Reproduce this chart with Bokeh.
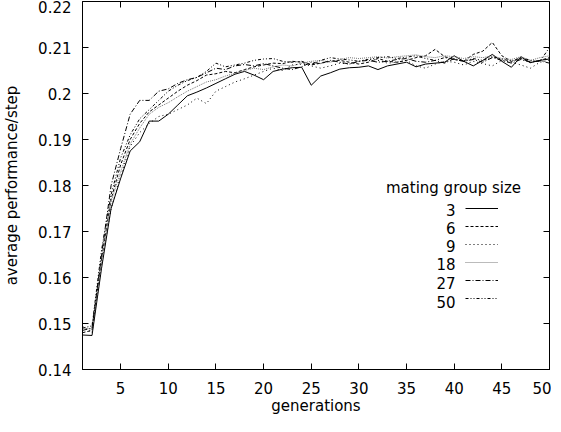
from bokeh.plotting import figure
from bokeh.models import (Range1d, FixedTicker, LinearAxis, Legend, LegendItem,
                          Label, CustomJSTickFormatter)
from bokeh.core.properties import value
from bokeh.embed import file_html
from bokeh.resources import INLINE

generations = list(range(1, 51))
group_sizes = ["3", "6", "9", "18", "27", "50"]

perf_3 = [0.1475, 0.1474, 0.1620, 0.1750, 0.1815, 0.1875, 0.1895, 0.1940, 0.1940, 0.1955,
          0.1975, 0.1995, 0.2003, 0.2012, 0.2022, 0.2032, 0.2042, 0.2048, 0.2040, 0.2030,
          0.2048, 0.2053, 0.2056, 0.2057, 0.2018, 0.2038, 0.2045, 0.2053, 0.2056, 0.2057,
          0.2060, 0.2052, 0.2060, 0.2064, 0.2068, 0.2058, 0.2064, 0.2066, 0.2068, 0.2082,
          0.2070, 0.2060, 0.2072, 0.2085, 0.2070, 0.2057, 0.2080, 0.2067, 0.2072, 0.2075]
perf_6 = [0.1480, 0.1485, 0.1640, 0.1770, 0.1845, 0.1900, 0.1935, 0.1960, 0.1975, 0.1990,
          0.2005, 0.2018, 0.2028, 0.2040, 0.2043, 0.2048, 0.2045, 0.2052, 0.2058, 0.2062,
          0.2066, 0.2065, 0.2070, 0.2068, 0.2062, 0.2066, 0.2070, 0.2072, 0.2068, 0.2064,
          0.2068, 0.2076, 0.2070, 0.2068, 0.2072, 0.2078, 0.2082, 0.2096, 0.2080, 0.2074,
          0.2070, 0.2085, 0.2092, 0.2111, 0.2082, 0.2070, 0.2076, 0.2068, 0.2072, 0.2078]
perf_9 = [0.1495, 0.1480, 0.1630, 0.1750, 0.1820, 0.1885, 0.1915, 0.1935, 0.1950, 0.1955,
          0.1965, 0.1975, 0.1990, 0.1978, 0.2005, 0.2015, 0.2025, 0.2032, 0.2040, 0.2048,
          0.2055, 0.2050, 0.2062, 0.2064, 0.2060, 0.2055, 0.2060, 0.2066, 0.2064, 0.2070,
          0.2075, 0.2072, 0.2066, 0.2068, 0.2072, 0.2060, 0.2055, 0.2064, 0.2070, 0.2068,
          0.2062, 0.2070, 0.2065, 0.2060, 0.2072, 0.2068, 0.2062, 0.2055, 0.2068, 0.2072]
perf_18 = [0.1490, 0.1488, 0.1635, 0.1765, 0.1830, 0.1890, 0.1925, 0.1955, 0.1970, 0.1980,
           0.1993, 0.2005, 0.2015, 0.2025, 0.2030, 0.2038, 0.2044, 0.2050, 0.2055, 0.2052,
           0.2058, 0.2062, 0.2060, 0.2066, 0.2070, 0.2072, 0.2068, 0.2074, 0.2078, 0.2076,
           0.2078, 0.2080, 0.2077, 0.2080, 0.2082, 0.2084, 0.2080, 0.2078, 0.2082, 0.2080,
           0.2076, 0.2080, 0.2078, 0.2082, 0.2076, 0.2074, 0.2080, 0.2072, 0.2078, 0.2082]
perf_27 = [0.1485, 0.1490, 0.1650, 0.1800, 0.1880, 0.1955, 0.1985, 0.1985, 0.2005, 0.2010,
           0.2022, 0.2030, 0.2035, 0.2045, 0.2055, 0.2052, 0.2060, 0.2063, 0.2060, 0.2065,
           0.2060, 0.2055, 0.2052, 0.2058, 0.2068, 0.2065, 0.2072, 0.2068, 0.2064, 0.2070,
           0.2072, 0.2068, 0.2070, 0.2074, 0.2076, 0.2070, 0.2068, 0.2072, 0.2066, 0.2076,
           0.2070, 0.2074, 0.2068, 0.2078, 0.2072, 0.2066, 0.2074, 0.2068, 0.2071, 0.2066]
perf_50 = [0.1490, 0.1495, 0.1660, 0.1780, 0.1860, 0.1910, 0.1945, 0.1965, 0.1985, 0.2005,
           0.2018, 0.2028, 0.2035, 0.2048, 0.2066, 0.2058, 0.2062, 0.2066, 0.2072, 0.2075,
           0.2076, 0.2070, 0.2068, 0.2070, 0.2063, 0.2072, 0.2078, 0.2075, 0.2073, 0.2070,
           0.2074, 0.2078, 0.2080, 0.2076, 0.2079, 0.2082, 0.2076, 0.2072, 0.2078, 0.2074,
           0.2070, 0.2076, 0.2072, 0.2080, 0.2075, 0.2070, 0.2078, 0.2072, 0.2070, 0.2100]

x_ticks = [5, 10, 15, 20, 25, 30, 35, 40, 45, 50]
y_ticks = [0.14, 0.15, 0.16, 0.17, 0.18, 0.19, 0.2, 0.21, 0.22]
y_tick_labels = ["0.14", "0.15", "0.16", "0.17", "0.18", "0.19", "0.2", "0.21", "0.22"]

series = [perf_3, perf_6, perf_9, perf_18, perf_27, perf_50]
styles = [("black", "solid"), ("black", "3 2"), ("black", "1 3"),
          ("#777777", "1 1"), ("black", "5 2 1 2"), ("black", "3 2 1 2 1 2")]

FONT = "DejaVu Sans"
FS = "15px"

p = figure(frame_width=467, frame_height=368, output_backend="svg", toolbar_location=None,
           x_range=Range1d(1, 50), y_range=Range1d(0.14, 0.22),
           min_border_left=76, min_border_right=2, min_border_top=1, min_border_bottom=47)
p.xgrid.visible = False
p.ygrid.visible = False
p.outline_line_color = "black"
p.outline_line_width = 1
p.background_fill_color = "white"
p.border_fill_color = "white"

for ax in (p.xaxis[0], p.yaxis[0]):
    ax.major_tick_in = 6
    ax.major_tick_out = 0
    ax.minor_tick_line_color = None
    ax.axis_line_color = "black"
    ax.major_label_text_font = FONT
    ax.major_label_text_font_size = FS
    ax.major_label_text_color = "black"
    ax.axis_label_text_font = FONT
    ax.axis_label_text_font_size = FS
    ax.axis_label_text_font_style = "normal"
    ax.axis_label_text_color = "black"

p.xaxis[0].ticker = FixedTicker(ticks=x_ticks)
p.yaxis[0].ticker = FixedTicker(ticks=y_ticks)
p.yaxis[0].major_label_overrides = {t: l for t, l in zip(y_ticks, y_tick_labels)}
p.xaxis[0].axis_label = "generations"
p.yaxis[0].axis_label = "average performance/step"
p.xaxis[0].major_label_standoff = 12
p.xaxis[0].axis_label_standoff = 0
p.yaxis[0].major_label_standoff = 11
p.yaxis[0].axis_label_standoff = 14

blank = CustomJSTickFormatter(code="return ''")
top_ax = LinearAxis(ticker=FixedTicker(ticks=x_ticks), formatter=blank,
                    major_tick_in=6, major_tick_out=0, minor_tick_line_color=None,
                    axis_line_color=None, major_label_standoff=0,
                    major_label_text_font_size="1px")
right_ax = LinearAxis(ticker=FixedTicker(ticks=y_ticks), formatter=blank,
                      major_tick_in=6, major_tick_out=0, minor_tick_line_color=None,
                      axis_line_color=None, major_label_standoff=0,
                      major_label_text_font_size="1px")
p.add_layout(top_ax, "above")
p.add_layout(right_ax, "right")

items = []
for vals, (col, dash) in zip(series, styles):
    r = p.line(generations, vals, line_color=col, line_dash=dash, line_width=1)
    items.append(LegendItem(label=value(""), renderers=[r]))

legend = Legend(items=items, location=(383, 62), glyph_width=33, glyph_height=18,
                label_height=18, label_width=0, label_standoff=0, spacing=0,
                padding=0, margin=0, border_line_color=None, background_fill_alpha=0,
                label_text_font_size="12px")
p.add_layout(legend, "center")

p.add_layout(Label(x=371, y=182, x_units="screen", y_units="screen",
                   text="mating group size", text_align="center", text_baseline="middle",
                   text_font=FONT, text_font_size=FS, text_color="black"))
label_y = [160, 142, 124, 106, 87, 68]
for name, ly in zip(group_sizes, label_y):
    p.add_layout(Label(x=373, y=ly, x_units="screen", y_units="screen",
                       text=name, text_align="right", text_baseline="middle",
                       text_font=FONT, text_font_size=FS, text_color="black"))

open("out.html", "w").write(file_html(p, INLINE))
